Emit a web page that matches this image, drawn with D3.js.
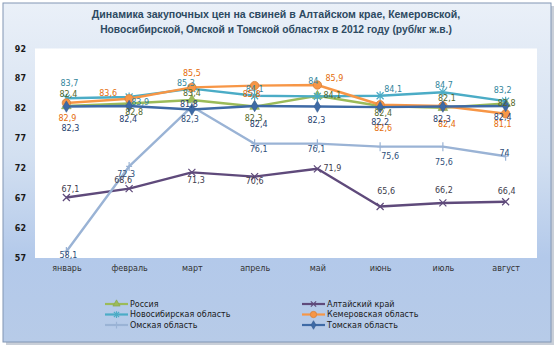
<!DOCTYPE html>
<html><head><meta charset="utf-8">
<script src="https://cdn.jsdelivr.net/npm/d3@7"></script>
<style>
html,body{margin:0;padding:0;background:#fff;}
svg{display:block;}
</style></head>
<body>
<svg id="c" width="559" height="349"></svg>
<script>
const titleLines = ["Динамика закупочных цен на свиней в Алтайском крае, Кемеровской,",
                    "Новосибирской, Омской и Томской областях в 2012 году (руб/кг ж.в.)"];
const categories = ["январь","февраль","март","апрель","май","июнь","июль","август"];
const yTicks = [57,62,67,72,77,82,87,92];
const seriesNames = ["Россия","Алтайский край","Новосибирская область","Кемеровская область","Омская область","Томская область"];
const russia      = [82.4, 82.8, 83.4, 82.3, 84.1, 82.4, 82.1, 82.8];
const altai       = [67.1, 68.6, 71.3, 70.6, 71.9, 65.6, 66.2, 66.4];
const novosib     = [83.7, 83.9, 85.3, 84.1, 84.0, 84.1, 84.7, 83.2];
const kemerovo    = [82.9, 83.6, 85.5, 85.8, 85.9, 82.6, 82.4, 81.1];
const omsk        = [58.1, 72.3, 82.3, 76.1, 76.1, 75.6, 75.6, 74.0];
const tomsk       = [82.3, 82.4, 81.8, 82.4, 82.3, 82.2, 82.3, 82.4];
const seriesValues = [russia, altai, novosib, kemerovo, omsk, tomsk];

// styling (separate from data)
const lineColors  = ["#9bbb59","#5f4a7b","#4bacc6","#f79646","#9ab3d5","#3e6aa6"];
const labelColors = ["#55682a","#403c4c","#31859c","#e46c0a","#2f4f7a","#1f3e6e"];
const markerTypes = ["triangle","times","asterisk","circle","plus","diamond"];
// label offsets [dx,dy] per series per point (layout)
const labelOffsets = [
  [[2,-11],[5,9],[0,-6],[-1,12],[15,0],[3,8],[4,-9],[1,0]],
  [[4,-8],[-6,-8],[4,8],[0,5],[15,0],[6,-15],[1,-12],[1,-10]],
  [[3,-15],[11,6],[-6,-5],[0,-6],[-4,-15],[13,-6],[1,-7],[-3,-11]],
  [[1,16],[-21,-5],[0,-14],[-3,9],[17,-7],[3,24],[4,19],[-3,11]],
  [[2,4],[-3,8],[-2,13],[4,6],[-1,6],[10,10],[1,16],[-1,-3]],
  [[4,22],[-1,14],[-3,-5],[4,19],[-1,14],[0,15],[-1,13],[-3,12]]
];

const svg = d3.select("#c");
const defs = svg.append("defs");
const g1 = defs.append("linearGradient").attr("id","bg").attr("x1",0).attr("y1",0).attr("x2",0).attr("y2",1);
g1.append("stop").attr("offset","0%").attr("stop-color","#eaf0f8");
g1.append("stop").attr("offset","45%").attr("stop-color","#d3e0f1");
g1.append("stop").attr("offset","75%").attr("stop-color","#b3c9ea");
g1.append("stop").attr("offset","100%").attr("stop-color","#b7cbe8");

// shadow
svg.append("rect").attr("x",6).attr("y",6).attr("width",548).attr("height",339).attr("fill","#c9cfd8");
svg.append("rect").attr("x",3).attr("y",3).attr("width",548).attr("height",339)
  .attr("fill","url(#bg)").attr("stroke","#8196b4").attr("stroke-width",1);

const plot = {left:35, right:537, top:48.5, bottom:258};
svg.append("rect").attr("x",plot.left).attr("y",plot.top).attr("width",plot.right-plot.left).attr("height",plot.bottom-plot.top).attr("fill","#ffffff");

const x = d3.scalePoint().domain(categories).range([plot.left, plot.right]).padding(0.5);
const y = d3.scaleLinear().domain([57,92]).range([plot.bottom, plot.top]);

// title
const tg = svg.append("g");
titleLines.forEach((t,i)=>{
  const el = tg.append("text").attr("x",276).attr("y",18+i*15).attr("text-anchor","middle")
    .attr("font-family","Liberation Sans, Arial, sans-serif").attr("font-weight","bold")
    .attr("font-size",11).attr("fill","#2d4a62").text(t);
  const target = i===0 ? 369 : 352;
  const len = el.node().getComputedTextLength();
  el.attr("font-size", 11*target/len);
});

// y axis
const ya = svg.append("g").attr("transform",`translate(${plot.left-9},0)`)
  .call(d3.axisLeft(y).tickValues(yTicks).tickSize(0).tickPadding(0));
ya.select(".domain").remove();
ya.selectAll("text").attr("font-family","DejaVu Sans, sans-serif").attr("font-weight","bold")
  .attr("font-size",8).attr("fill","#1a1a1a");

// x axis
const xa = svg.append("g").attr("transform",`translate(0,${plot.bottom})`)
  .call(d3.axisBottom(x).tickSize(0).tickPadding(7));
xa.select(".domain").remove();
xa.selectAll("text").attr("font-family","DejaVu Sans, sans-serif").attr("font-size",8).attr("fill","#333");

function marker(sel, type, color, size){
  const s = size||1;
  if(type==="circle"){
    sel.append("circle").attr("r",4.2*s).attr("fill",color).attr("stroke",d3.color(color).darker(0.4)).attr("stroke-width",0.8);
  } else if(type==="triangle"){
    sel.append("path").attr("d",d3.symbol(d3.symbolTriangle, 40*s*s)()).attr("fill",color).attr("stroke",d3.color(color).darker(0.4)).attr("stroke-width",0.6);
  } else if(type==="diamond"){
    sel.append("path").attr("d",d3.symbol(d3.symbolDiamond, 38*s*s)()).attr("fill",color).attr("stroke",d3.color(color).darker(0.4)).attr("stroke-width",0.6);
  } else if(type==="times"){
    const a=3.5*s;
    sel.append("path").attr("d",`M${-a},${-a}L${a},${a}M${-a},${a}L${a},${-a}`).attr("stroke",color).attr("stroke-width",1.2).attr("fill","none");
  } else if(type==="asterisk"){
    const a=3.5*s, b=4.5*s;
    sel.append("path").attr("d",`M${-a},${-a}L${a},${a}M${-a},${a}L${a},${-a}M0,${-b}L0,${b}`).attr("stroke",color).attr("stroke-width",1.2).attr("fill","none");
  } else if(type==="plus"){
    const b=4.5*s, a=3*s;
    sel.append("path").attr("d",`M0,${-b}L0,${b}M${-a},0L${a},0`).attr("stroke",color).attr("stroke-width",1.2).attr("fill","none");
  }
}

const line = d3.line().x((d,i)=>x(categories[i])).y(d=>y(d));
const fmt = v => String(+v.toFixed(1)).replace(".",",");

seriesValues.forEach((vals,si)=>{
  const g = svg.append("g");
  g.append("path").datum(vals).attr("d",line).attr("fill","none")
    .attr("stroke",lineColors[si]).attr("stroke-width",2.4).attr("stroke-linejoin","round");
  vals.forEach((v,i)=>{
    const m = g.append("g").attr("transform",`translate(${x(categories[i])},${y(v)})`);
    marker(m, markerTypes[si], lineColors[si]);
  });
});

// labels on top
seriesValues.forEach((vals,si)=>{
  svg.append("g").selectAll("text").data(vals).join("text")
    .attr("x",(d,i)=>x(categories[i])+labelOffsets[si][i][0])
    .attr("y",(d,i)=>y(d)+labelOffsets[si][i][1])
    .attr("text-anchor","middle").attr("dominant-baseline","central")
    .attr("font-family","DejaVu Sans, sans-serif").attr("font-size",8)
    .attr("fill",labelColors[si]).text(d=>fmt(d));
});

// legend
const legCols = [105, 302];
const legRows = [304, 314.5, 325];
seriesNames.forEach((name,si)=>{
  const cx = legCols[si%2], cy = legRows[Math.floor(si/2)];
  const lg = svg.append("g").attr("transform",`translate(${cx},${cy})`);
  lg.append("line").attr("x1",0).attr("x2",23).attr("y1",0).attr("y2",0).attr("stroke",lineColors[si]).attr("stroke-width",2.2);
  const m = lg.append("g").attr("transform","translate(11.5,0)");
  marker(m, markerTypes[si], lineColors[si], 0.75);
  lg.append("text").attr("x",25).attr("y",0).attr("dominant-baseline","central")
    .attr("font-family","DejaVu Sans, sans-serif").attr("font-size",8).attr("fill","#1a1a1a").text(name);
});
</script>
</body></html>
